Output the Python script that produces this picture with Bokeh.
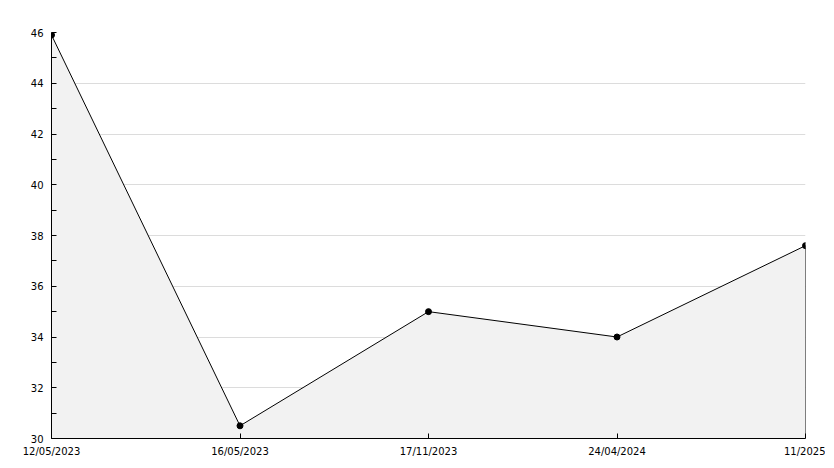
from bokeh.plotting import figure
from bokeh.models import FixedTicker, Range1d, ColumnDataSource
from bokeh.embed import file_html
from bokeh.resources import INLINE

dates = ["12/05/2023", "16/05/2023", "17/11/2023", "24/04/2024", "11/2025"]
values = [45.9, 30.5, 35.0, 34.0, 37.6]
y_ticks = [30, 32, 34, 36, 38, 40, 42, 44, 46]

xs = list(range(len(dates)))
y_min = 30

p = figure(output_backend="svg", toolbar_location=None,
           frame_width=754, frame_height=406,
           min_border_left=51, min_border_top=32, min_border_right=20, min_border_bottom=20,
           x_range=Range1d(0, len(dates) - 1), y_range=Range1d(30, 46))
p.outline_line_color = None
p.background_fill_color = "white"

# area
src = ColumnDataSource(dict(x=xs, y=values, y0=[y_min] * len(xs)))
p.varea(x="x", y1="y0", y2="y", source=src, fill_color="#f2f2f2")
p.segment(x0=[xs[-1]], y0=[y_min], x1=[xs[-1]], y1=[values[-1]], line_color="black", line_width=1)
p.line(x="x", y="y", source=src, line_color="black", line_width=1)
p.scatter(x="x", y="y", source=src, size=6, color="black")

p.xgrid.grid_line_color = None
p.ygrid.grid_line_color = "#dcdcdc"
p.ygrid.ticker = FixedTicker(ticks=y_ticks)

p.xaxis.ticker = FixedTicker(ticks=xs)
p.xaxis.major_label_overrides = {i: d for i, d in enumerate(dates)}
p.yaxis.ticker = FixedTicker(ticks=y_ticks, minor_ticks=[v + 1 for v in y_ticks[:-1]])

for ax in (p.xaxis[0], p.yaxis[0]):
    ax.axis_line_color = "black"
    ax.major_tick_in = 5
    ax.major_tick_out = 0
    ax.minor_tick_in = 5
    ax.minor_tick_out = 0
    ax.major_tick_line_color = "black"
    ax.minor_tick_line_color = "black"
    ax.major_label_text_font = "DejaVu Sans"
    ax.major_label_text_font_size = "10px"
    ax.major_label_text_color = "black"
p.xaxis.minor_tick_line_color = None
p.xaxis.major_label_standoff = 7
p.yaxis.major_label_standoff = 8

open("out.html", "w").write(file_html(p, INLINE))
